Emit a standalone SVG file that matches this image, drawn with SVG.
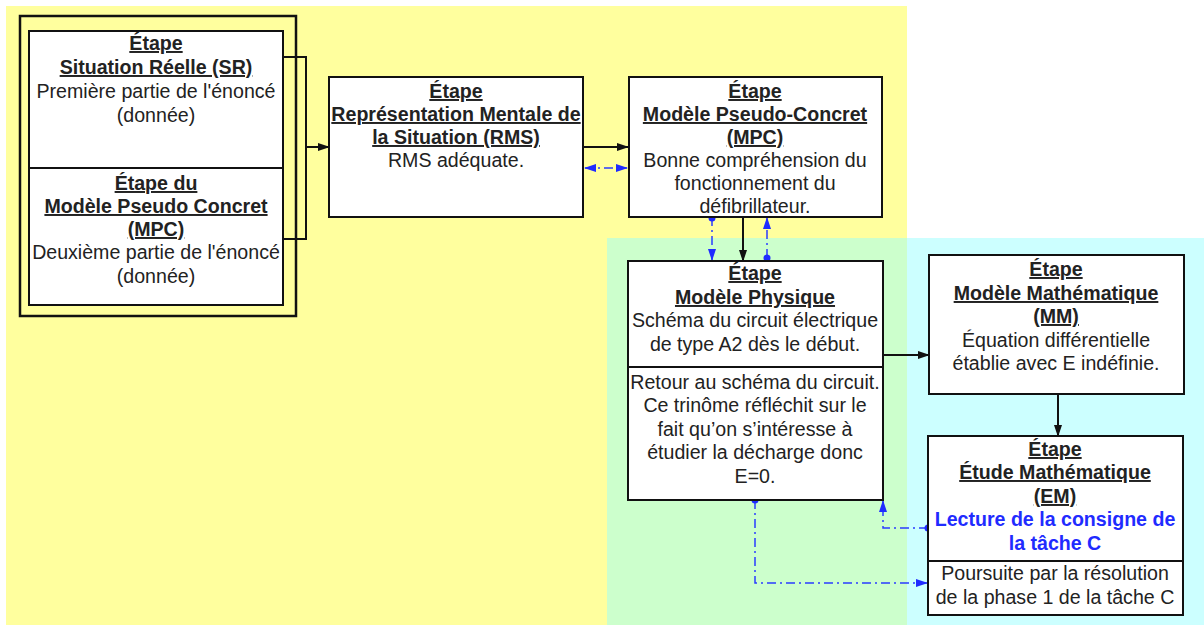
<svg xmlns="http://www.w3.org/2000/svg" width="1204" height="625" viewBox="0 0 1204 625">
<defs>
<style>
text{font-family:"Liberation Sans",Arial,sans-serif;font-size:19.6px;fill:#222;text-anchor:middle}
.h{font-weight:bold;text-decoration:underline}
.b{font-weight:bold;fill:#1f2bff}
.box{fill:#fff;stroke:#111;stroke-width:2}
.ln{fill:none;stroke:#111;stroke-width:2}
.c{fill:none;stroke:#111;stroke-width:2}
.d{fill:none;stroke:#2a3cff;stroke-width:1.5;stroke-dasharray:9 4 2 4}
.dot{fill:#1f2bff}
</style>
<marker id="ak" markerWidth="12" markerHeight="10" refX="11" refY="5" orient="auto" markerUnits="userSpaceOnUse"><path d="M0,1 L12,5 L0,9 Z" fill="#111"/></marker>
<marker id="ab" markerWidth="12" markerHeight="10" refX="11" refY="5" orient="auto-start-reverse" markerUnits="userSpaceOnUse"><path d="M0,1 L12,5 L0,9 Z" fill="#1f2bff"/></marker>
</defs>
<g id="background">
<rect x="6" y="6" width="901" height="232" fill="#ffff9e"/>
<rect x="6" y="238" width="601" height="387" fill="#ffff9e"/>
<rect x="607" y="238" width="300" height="387" fill="#ccffcc"/>
<rect x="907" y="238" width="297" height="387" fill="#ccffff"/>
</g>
<g id="connectors">
<path class="c" d="M283,57 H306 V239 H283"/>
<path class="c" d="M306,147 H329" marker-end="url(#ak)"/>
<path class="c" d="M583,147 H628" marker-end="url(#ak)"/>
<path class="d" d="M585,168 H627" marker-start="url(#ab)" marker-end="url(#ab)"/>
<path class="c" d="M743,217 V261" marker-end="url(#ak)"/>
<path class="d" d="M712,217 V260" marker-end="url(#ab)"/>
<circle class="dot" cx="712" cy="218" r="3.5"/>
<path class="d" d="M767,258 V218" marker-end="url(#ab)"/>
<circle class="dot" cx="767" cy="258" r="3.5"/>
<path class="c" d="M883,355 H929" marker-end="url(#ak)"/>
<path class="c" d="M1058,394 V436" marker-end="url(#ak)"/>
<path class="d" d="M755,500 V583 H927" marker-end="url(#ab)"/>
<circle class="dot" cx="755" cy="500" r="3.5"/>
<path class="d" d="M928,528 H883 V501" marker-end="url(#ab)"/>
<circle class="dot" cx="928" cy="528" r="3.5"/>
</g>
<g id="node-sr-mpc">
<rect x="20" y="16" width="276" height="300" fill="none" stroke="#111" stroke-width="2.5"/>
<rect class="box" x="29" y="31" width="254" height="274"/>
<line class="ln" x1="29" y1="168" x2="283" y2="168"/>
<text class="h" x="156" y="50">Étape</text>
<text class="h" x="156" y="74">Situation Réelle (SR)</text>
<text x="156" y="98">Première partie de l'énoncé</text>
<text x="156" y="122">(donnée)</text>
<text class="h" x="156" y="190">Étape du</text>
<text class="h" x="156" y="213">Modèle Pseudo Concret</text>
<text class="h" x="156" y="236">(MPC)</text>
<text x="156" y="259">Deuxième partie de l'énoncé</text>
<text x="156" y="283">(donnée)</text>
</g>
<g id="node-rms">
<rect class="box" x="329" y="77" width="254" height="140"/>
<text class="h" x="456" y="98">Étape</text>
<text class="h" x="456" y="121">Représentation Mentale de</text>
<text class="h" x="456" y="144">la Situation (RMS)</text>
<text x="456" y="167">RMS adéquate.</text>
</g>
<g id="node-mpc">
<rect class="box" x="629" y="77" width="253" height="140"/>
<text class="h" x="755" y="98">Étape</text>
<text class="h" x="755" y="121">Modèle Pseudo-Concret</text>
<text class="h" x="755" y="144">(MPC)</text>
<text x="755" y="167">Bonne compréhension du</text>
<text x="755" y="190">fonctionnement du</text>
<text x="755" y="213">défibrillateur.</text>
</g>
<g id="node-mp">
<rect class="box" x="628" y="261" width="255" height="239"/>
<line class="ln" x1="628" y1="367" x2="883" y2="367"/>
<text class="h" x="755" y="280">Étape</text>
<text class="h" x="755" y="304">Modèle Physique</text>
<text x="755" y="327">Schéma du circuit électrique</text>
<text x="755" y="351">de type A2 dès le début.</text>
<text x="755" y="389">Retour au schéma du circuit.</text>
<text x="755" y="412">Ce trinôme réfléchit sur le</text>
<text x="755" y="436">fait qu’on s’intéresse à</text>
<text x="755" y="459">étudier la décharge donc</text>
<text x="755" y="483">E=0.</text>
</g>
<g id="node-mm">
<rect class="box" x="929" y="255" width="255" height="139"/>
<text class="h" x="1056" y="276">Étape</text>
<text class="h" x="1056" y="300">Modèle Mathématique</text>
<text class="h" x="1056" y="323">(MM)</text>
<text x="1056" y="347">Équation différentielle</text>
<text x="1056" y="370">établie avec E indéfinie.</text>
</g>
<g id="node-em">
<rect class="box" x="928" y="436" width="255" height="179"/>
<line class="ln" x1="928" y1="561" x2="1183" y2="561"/>
<text class="h" x="1055" y="456">Étape</text>
<text class="h" x="1055" y="479">Étude Mathématique</text>
<text class="h" x="1055" y="503">(EM)</text>
<text class="b" x="1055" y="526">Lecture de la consigne de</text>
<text class="b" x="1055" y="550">la tâche C</text>
<text x="1055" y="580">Poursuite par la résolution</text>
<text x="1055" y="604">de la phase 1 de la tâche C</text>
</g>
</svg>
